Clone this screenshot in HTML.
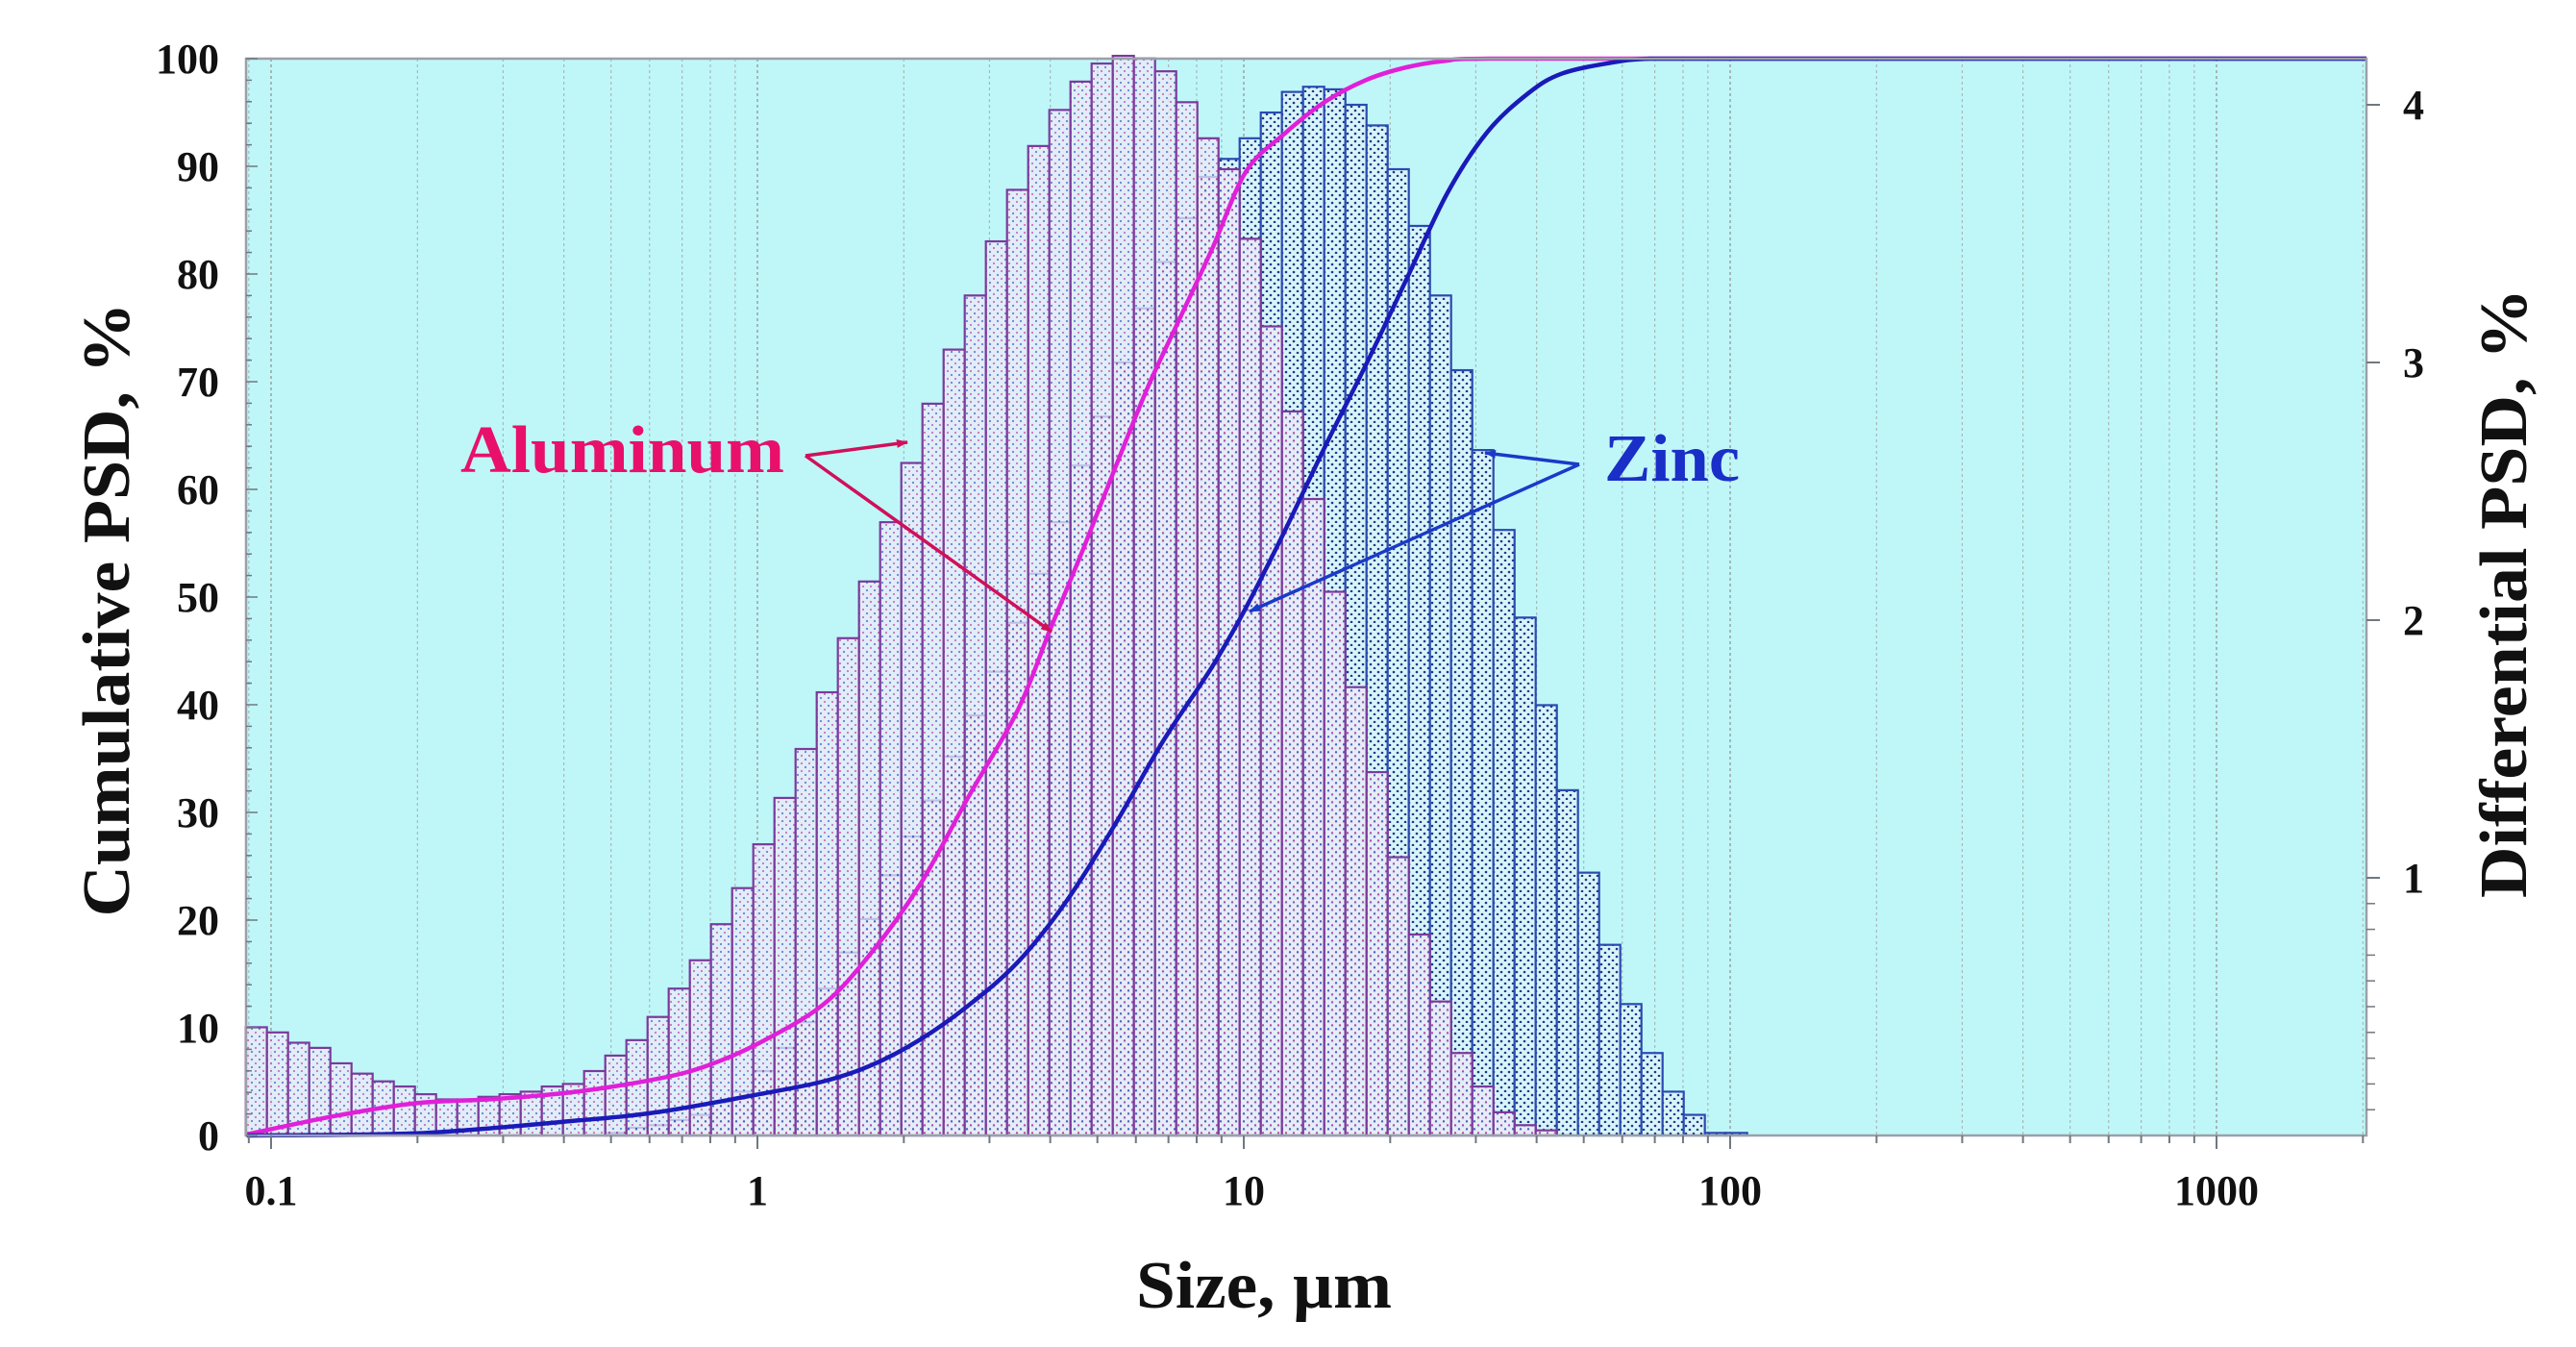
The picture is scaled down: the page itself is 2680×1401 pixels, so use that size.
<!DOCTYPE html>
<html><head><meta charset="utf-8"><title>PSD chart</title>
<style>
html,body{margin:0;padding:0;background:#fff;}
svg{display:block;font-family:"Liberation Serif",serif;font-weight:bold;}
</style></head>
<body>
<svg id="chart" width="2680" height="1401" viewBox="0 0 2680 1401" xmlns="http://www.w3.org/2000/svg">
<defs>
<pattern id="patAl" width="8" height="8" patternUnits="userSpaceOnUse">
<rect width="8" height="8" fill="#eceaf8"/>
<circle cx="2" cy="2" r="1.1" fill="#d04aa0"/>
<circle cx="6" cy="6" r="1.1" fill="#4a5cc8"/>
</pattern>
<pattern id="patZn" width="8" height="8" patternUnits="userSpaceOnUse">
<rect width="8" height="8" fill="#d8f4f8"/>
<circle cx="2" cy="3" r="1.3" fill="#1a3a8a"/>
<circle cx="6" cy="7" r="1.3" fill="#1a3a8a"/>
</pattern>
</defs>
<rect x="256" y="61" width="2206" height="1120" fill="#bff7f9"/>
<g id="grid"></g>
<g id="bars"></g>
<g id="lines"></g>
<g id="axes"></g>
</svg>
<script>
// ---- data ----
const binsPerDecade = 23;
const binStartLog = -1.052;
const aluminumDiff = [0.42,0.40,0.36,0.34,0.28,0.24,0.21,0.19,0.16,0.14,
0.14,0.15,0.16,0.17,0.19,0.20,0.25,0.31,0.37,0.46,
0.57,0.68,0.82,0.96,1.13,1.31,1.50,1.72,1.93,2.15,
2.38,2.61,2.84,3.05,3.26,3.47,3.67,3.84,3.98,4.09,
4.16,4.19,4.18,4.13,4.01,3.87,3.75,3.48,3.14,2.81,
2.47,2.11,1.74,1.41,1.08,0.78,0.52,0.32,0.19,0.09,0.04,0.02];
const zincDiff = [0,0,0,0,0,0,0,0,0,0,0,0,0,0,0,0,0,
0.01,0.03,0.04,0.06,0.08,0.13,0.17,0.25,0.34,0.44,0.57,0.71,0.84,
1.01,1.16,1.30,1.47,1.63,1.80,1.99,2.18,2.38,2.60,
2.79,3.00,3.21,3.39,3.56,3.72,3.79,3.87,3.97,4.05,
4.07,4.06,4.00,3.92,3.75,3.53,3.26,2.97,2.66,2.35,
2.01,1.67,1.34,1.02,0.74,0.51,0.32,0.17,0.08,0.01,0.01];
const alCumSize = [0.089,0.135,0.199,0.292,0.43,0.63,0.79,1,1.36,1.71,2.16,2.72,3.43,4.0,4.67,5.44,6.35,7.41,8.64,10.1,12.1,14.7,17.8,21.6,26,32,100,2033];
const alCumPct  = [0.1,1.8,3.0,3.4,4.1,5.3,6.5,8.5,12.1,16.9,23.3,31.5,39.5,47,54.4,62,69.5,76,82.5,89.5,93,96,98,99.2,99.8,100,100,100];
const znCumSize = [0.089,0.199,0.43,0.63,1,1.36,1.71,2.16,2.72,3.43,4.31,5.44,6.8,8.6,10.1,12.1,14.7,17.8,21.6,26.2,31.7,38.5,45,56.5,68.5,100,2033];
const znCumPct  = [0,0.2,1.4,2.2,3.8,5,6.5,8.9,12.1,16.1,21.7,28.9,36.5,43.5,49,56,64,71.5,79.5,87.5,93.2,96.8,98.6,99.6,100,100,100];
const xTickLabels = ["0.1","1","10","100","1000"];
const xTickValues = [0.1,1,10,100,1000];
const yLeftTicks = [0,10,20,30,40,50,60,70,80,90,100];
const yRightTicks = [1,2,3,4];

// ---- axes functions ----
const NS="http://www.w3.org/2000/svg";
const PL=256, PR=2462, PT=61, PB=1181;
function xs(s){return 788+506*Math.log10(s);}
function xLog(l){return 788+506*l;}
function yL(p){return PB-(PB-PT)*p/100;}
function yR(d){return PB-268*d;}
function mk(tag,attrs,parent){const e=document.createElementNS(NS,tag);for(const k in attrs)e.setAttribute(k,attrs[k]);parent.appendChild(e);return e;}
const G=id=>document.getElementById(id);

// grid
for(let d=-2;d<=3;d++){for(let m=1;m<=9;m++){const v=m*Math.pow(10,d);const x=xs(v);if(x<PL+2||x>PR-2)continue;
const ln=mk('line',{x1:x,y1:PT,x2:x,y2:PB,stroke:m===1?'#9aa8a8':'#a8b8b8','stroke-width':m===1?1.6:1.2,'stroke-dasharray':'3,3'},G('grid'));

}}

// bars
function drawBars(vals,fill,stroke,opacity,name){
vals.forEach((v,i)=>{if(v<=0)return;
const x0=xLog(binStartLog+i/binsPerDecade), x1=xLog(binStartLog+(i+1)/binsPerDecade);
const r=mk('rect',{x:x0,y:yR(v),width:x1-x0,height:PB-yR(v),fill:fill,'fill-opacity':opacity,stroke:stroke,'stroke-width':2.2},G('bars'));

});}
drawBars(zincDiff,'url(#patZn)','#2a4ab0',1,'zinc-bar');
drawBars(aluminumDiff,'url(#patAl)','#7a3a9a',0.75,'aluminum-bar');

// cumulative lines (smoothed, Catmull-Rom)
function drawLine(sz,pc,color,name){
const pts=sz.map((s,i)=>[xs(Math.max(s,0.0891)),yL(pc[i])]);
let d='M'+pts[0][0].toFixed(1)+','+pts[0][1].toFixed(1);
for(let i=0;i<pts.length-1;i++){
const p0=pts[Math.max(i-1,0)],p1=pts[i],p2=pts[i+1],p3=pts[Math.min(i+2,pts.length-1)];
let c1y=p1[1]+(p2[1]-p0[1])/6, c2y=p2[1]-(p3[1]-p1[1])/6;
const lo=Math.min(p1[1],p2[1]),hi=Math.max(p1[1],p2[1]);
c1y=Math.min(hi,Math.max(lo,c1y));c2y=Math.min(hi,Math.max(lo,c2y));
const c1=[p1[0]+(p2[0]-p0[0])/6,c1y],c2=[p2[0]-(p3[0]-p1[0])/6,c2y];
d+='C'+c1[0].toFixed(1)+','+c1[1].toFixed(1)+' '+c2[0].toFixed(1)+','+c2[1].toFixed(1)+' '+p2[0].toFixed(1)+','+p2[1].toFixed(1);}
const p=mk('path',{d:d,fill:'none',stroke:color,'stroke-width':4.5,'stroke-linejoin':'round'},G('lines'));

}
drawLine(alCumSize,alCumPct,'#e020d8','aluminum-cumulative-line');
drawLine(znCumSize,znCumPct,'#1a1ab8','zinc-cumulative-line');

// axes frame
const fr=mk('rect',{x:PL,y:PT,width:PR-PL,height:PB-PT,fill:'none',stroke:'#9aa0a8','stroke-width':2.5},G('axes'));


for(let d=-2;d<=3;d++){for(let m=1;m<=9;m++){const v=m*Math.pow(10,d);const x=xs(v);if(x<PL||x>PR)continue;
const t=mk('line',{x1:x,y1:PB,x2:x,y2:PB+(m===1?14:8),stroke:'#707880','stroke-width':2},G('axes'));

}}
xTickValues.forEach((v,i)=>{const t=mk('text',{x:xs(v),y:1253,'text-anchor':'middle','font-size':44,fill:'#111'},G('axes'));t.textContent=xTickLabels[i];

});
for(let p=0;p<=100;p+=2){const t=mk('line',{x1:PL,y1:yL(p),x2:PL+(p%10===0?12:6),y2:yL(p),stroke:'#707880','stroke-width':1.5},G('axes'));

}
yLeftTicks.forEach(p=>{const t=mk('text',{x:228,y:yL(p)+15,'text-anchor':'end','font-size':44,fill:'#111'},G('axes'));t.textContent=String(p);

});
yRightTicks.forEach(d=>{const l=mk('line',{x1:PR,y1:yR(d),x2:PR+14,y2:yR(d),stroke:'#707880','stroke-width':2},G('axes'));


const t=mk('text',{x:2500,y:yR(d)+15,'font-size':44,fill:'#111'},G('axes'));t.textContent=String(d);

});
for(let k=1;k<=9;k++){const d=k/10;const l=mk('line',{x1:PR,y1:yR(d),x2:PR+9,y2:yR(d),stroke:'#707880','stroke-width':1.5},G('axes'));

}
</script>
<svg style="position:absolute;left:0;top:0" width="2680" height="1401" viewBox="0 0 2680 1401" xmlns="http://www.w3.org/2000/svg" font-family="Liberation Serif, serif" font-weight="bold">
<defs>
<marker id="arP" markerWidth="12" markerHeight="9" refX="11" refY="4.5" orient="auto" markerUnits="userSpaceOnUse" viewBox="0 0 12 9"><path d="M0,0 L12,4.5 L0,9 z" fill="#d0105a"/></marker>
<marker id="arB" markerWidth="12" markerHeight="9" refX="11" refY="4.5" orient="auto" markerUnits="userSpaceOnUse" viewBox="0 0 12 9"><path d="M0,0 L12,4.5 L0,9 z" fill="#1a3ac8"/></marker>
</defs>
<text transform="translate(134,634) rotate(-90)" text-anchor="middle" font-size="70" textLength="639" lengthAdjust="spacingAndGlyphs" fill="#111">Cumulative PSD, %</text>
<text transform="translate(2628,617) rotate(-90)" text-anchor="middle" font-size="70" textLength="634" lengthAdjust="spacingAndGlyphs" fill="#111">Differential PSD, %</text>
<text x="1315" y="1360" text-anchor="middle" font-size="70" textLength="266" lengthAdjust="spacingAndGlyphs" fill="#111">Size, µm</text>
<text x="479" y="491" font-size="70" textLength="337" lengthAdjust="spacingAndGlyphs" fill="#e8106a">Aluminum</text>
<line x1="838" y1="474" x2="944" y2="460" stroke="#d0105a" stroke-width="3.5" marker-end="url(#arP)"/>
<line x1="838" y1="474" x2="1094" y2="657" stroke="#d0105a" stroke-width="3.5" marker-end="url(#arP)"/>
<text x="1669" y="500" font-size="70" textLength="141" lengthAdjust="spacingAndGlyphs" fill="#1a2ec8">Zinc</text>
<line x1="1643" y1="483" x2="1545" y2="471" stroke="#1a3ac8" stroke-width="3.5" marker-end="url(#arB)"/>
<line x1="1643" y1="483" x2="1300" y2="636" stroke="#1a3ac8" stroke-width="3.5" marker-end="url(#arB)"/>
</svg>
</body></html>
